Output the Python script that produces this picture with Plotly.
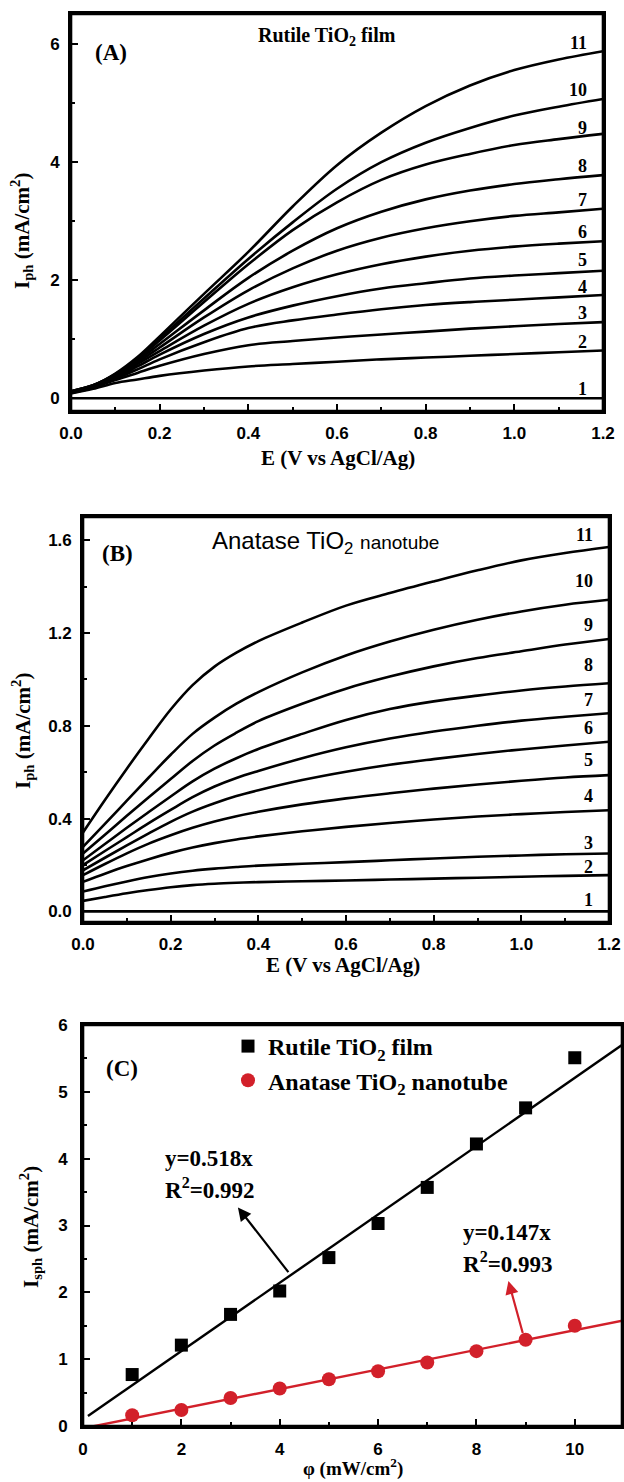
import plotly.graph_objects as go

W, H = 624, 1482

def PX(x):
    return x / W

def PY(y):
    return 1 - y / H

# ---------------- data ----------------
curve_ids = ["1", "2", "3", "4", "5", "6", "7", "8", "9", "10", "11"]

# Panel A: Rutile TiO2 film photocurrent (mA/cm2) vs E
E_A = [0.0, 0.05, 0.1, 0.15, 0.2, 0.3, 0.4, 0.5, 0.6, 0.7, 0.8, 0.9, 1.0, 1.1, 1.2]
rutile_1 = [0, 0, 0, 0, 0, 0, 0, 0, 0, 0, 0, 0, 0, 0, 0]
rutile_2 = [0.08, 0.16, 0.26, 0.32, 0.38, 0.47, 0.54, 0.58, 0.62, 0.66, 0.69, 0.72, 0.75, 0.78, 0.81]
rutile_3 = [0.09, 0.18, 0.31, 0.43, 0.55, 0.75, 0.90, 0.97, 1.03, 1.08, 1.13, 1.18, 1.22, 1.26, 1.29]
rutile_4 = [0.10, 0.19, 0.33, 0.49, 0.66, 0.95, 1.19, 1.32, 1.42, 1.51, 1.58, 1.63, 1.67, 1.71, 1.75]
rutile_5 = [0.10, 0.20, 0.35, 0.54, 0.74, 1.09, 1.37, 1.57, 1.73, 1.86, 1.95, 2.03, 2.08, 2.12, 2.16]
rutile_6 = [0.11, 0.21, 0.37, 0.58, 0.80, 1.23, 1.60, 1.88, 2.10, 2.27, 2.40, 2.50, 2.57, 2.62, 2.66]
rutile_7 = [0.11, 0.21, 0.38, 0.61, 0.86, 1.37, 1.83, 2.20, 2.50, 2.72, 2.88, 3.00, 3.09, 3.15, 3.21]
rutile_8 = [0.11, 0.21, 0.39, 0.64, 0.92, 1.49, 2.04, 2.50, 2.88, 3.16, 3.37, 3.52, 3.63, 3.71, 3.78]
rutile_9 = [0.12, 0.22, 0.40, 0.67, 0.98, 1.63, 2.27, 2.85, 3.32, 3.70, 3.96, 4.14, 4.29, 4.39, 4.48]
rutile_10 = [0.12, 0.22, 0.41, 0.68, 1.01, 1.69, 2.36, 2.98, 3.55, 4.00, 4.33, 4.58, 4.79, 4.94, 5.07]
rutile_11 = [0.12, 0.22, 0.42, 0.70, 1.05, 1.77, 2.48, 3.25, 3.95, 4.50, 4.95, 5.30, 5.56, 5.74, 5.88]

# Panel B: Anatase TiO2 nanotube photocurrent (mA/cm2) vs E
E_B = [0.0, 0.05, 0.1, 0.15, 0.2, 0.25, 0.3, 0.35, 0.4, 0.5, 0.6, 0.7, 0.8, 0.9, 1.0, 1.1, 1.2]
anatase_1 = [0] * 17
anatase_2 = [0.045, 0.062, 0.078, 0.092, 0.104, 0.113, 0.119, 0.123, 0.126, 0.130, 0.133, 0.137, 0.141, 0.145, 0.149, 0.153, 0.156]
anatase_3 = [0.085, 0.108, 0.129, 0.148, 0.163, 0.175, 0.184, 0.191, 0.197, 0.205, 0.212, 0.220, 0.228, 0.235, 0.241, 0.246, 0.249]
anatase_4 = [0.127, 0.162, 0.195, 0.225, 0.252, 0.275, 0.294, 0.310, 0.323, 0.345, 0.364, 0.381, 0.396, 0.409, 0.419, 0.428, 0.436]
anatase_5 = [0.156, 0.204, 0.250, 0.292, 0.328, 0.360, 0.387, 0.410, 0.429, 0.461, 0.487, 0.509, 0.529, 0.547, 0.563, 0.577, 0.587]
anatase_6 = [0.177, 0.231, 0.284, 0.336, 0.386, 0.430, 0.466, 0.497, 0.522, 0.566, 0.602, 0.632, 0.656, 0.678, 0.698, 0.715, 0.731]
anatase_7 = [0.199, 0.260, 0.320, 0.380, 0.437, 0.492, 0.538, 0.575, 0.605, 0.660, 0.707, 0.745, 0.775, 0.800, 0.822, 0.839, 0.854]
anatase_8 = [0.220, 0.290, 0.360, 0.428, 0.495, 0.560, 0.615, 0.660, 0.700, 0.765, 0.825, 0.872, 0.905, 0.930, 0.952, 0.969, 0.983]
anatase_9 = [0.249, 0.330, 0.412, 0.492, 0.570, 0.648, 0.715, 0.770, 0.820, 0.895, 0.960, 1.012, 1.056, 1.092, 1.121, 1.150, 1.174]
anatase_10 = [0.278, 0.377, 0.477, 0.577, 0.675, 0.765, 0.835, 0.895, 0.945, 1.030, 1.103, 1.163, 1.214, 1.257, 1.293, 1.322, 1.343]
anatase_11 = [0.340, 0.480, 0.615, 0.745, 0.870, 0.975, 1.055, 1.115, 1.165, 1.245, 1.318, 1.372, 1.422, 1.470, 1.513, 1.545, 1.571]

rutile_curves = [rutile_1, rutile_2, rutile_3, rutile_4, rutile_5, rutile_6,
                 rutile_7, rutile_8, rutile_9, rutile_10, rutile_11]
anatase_curves = [anatase_1, anatase_2, anatase_3, anatase_4, anatase_5, anatase_6,
                  anatase_7, anatase_8, anatase_9, anatase_10, anatase_11]

# Panel C: saturated photocurrent vs light intensity
phi = [1, 2, 3, 4, 5, 6, 7, 8, 9, 10]
rutile_sph = [0.77, 1.21, 1.67, 2.02, 2.52, 3.03, 3.57, 4.22, 4.76, 5.51]
anatase_sph = [0.16, 0.24, 0.42, 0.56, 0.70, 0.82, 0.95, 1.12, 1.29, 1.50]
fit_x = [0.1, 11.0]
rutile_fit = [0.15, 5.72]
anatase_fit = [-0.02, 1.58]

# label positions (curve numbers)
labelA_y = [0.15, 0.96, 1.45, 1.89, 2.34, 2.82, 3.36, 3.94, 4.58, 5.22, 6.02]
labelB_y = [0.048, 0.191, 0.295, 0.497, 0.652, 0.789, 0.911, 1.063, 1.235, 1.423, 1.624]

# ---------------- styling ----------------
SERIF = "Liberation Serif"
SANS = "Liberation Sans"
tickfont = dict(family=SANS, size=17, color="black", weight="bold")
RED = "#d2202a"
LINE = dict(color="black", width=2.6, shape="spline", smoothing=1.0)

fig = go.Figure()

for cid, ys in zip(curve_ids, rutile_curves):
    fig.add_trace(go.Scatter(x=E_A, y=ys, mode="lines", name=cid, line=LINE,
                             showlegend=False, xaxis="x", yaxis="y"))
for cid, ys in zip(curve_ids, anatase_curves):
    fig.add_trace(go.Scatter(x=E_B, y=ys, mode="lines", name=cid, line=LINE,
                             showlegend=False, xaxis="x2", yaxis="y2"))

fig.add_trace(go.Scatter(x=fit_x, y=rutile_fit, mode="lines", showlegend=False,
                         line=dict(color="black", width=2.4), xaxis="x3", yaxis="y3"))
fig.add_trace(go.Scatter(x=fit_x, y=anatase_fit, mode="lines", showlegend=False,
                         line=dict(color=RED, width=2.4), xaxis="x3", yaxis="y3"))
fig.add_trace(go.Scatter(x=phi, y=rutile_sph, mode="markers", name="Rutile TiO<sub>2</sub> film",
                         marker=dict(symbol="square", size=13, color="black"),
                         xaxis="x3", yaxis="y3", cliponaxis=False))
fig.add_trace(go.Scatter(x=phi, y=anatase_sph, mode="markers", name="Anatase TiO<sub>2</sub> nanotube",
                         marker=dict(symbol="circle", size=14, color=RED),
                         xaxis="x3", yaxis="y3", cliponaxis=False))


def axis(domain, rng, dtick, minor_dtick, anchor, standoff, fmt=None):
    d = dict(domain=domain, range=rng, anchor=anchor, showline=True, linecolor="black",
             linewidth=2.6, mirror=True, ticks="inside", ticklen=7, tickwidth=2.2,
             tickcolor="black", dtick=dtick, tick0=0, showgrid=False, zeroline=False,
             tickfont=tickfont, automargin=False, ticklabelstandoff=standoff,
             layer="above traces",
             minor=dict(ticks="inside", ticklen=4, tickwidth=2, tickcolor="black",
                        dtick=minor_dtick, tick0=0, showgrid=False))
    if fmt:
        d["tickformat"] = fmt
    return d


xa = axis([PX(71), PX(603)], [0, 1.2], 0.2, 0.1, "y", 5, ".1f")
ya = axis([PY(411), PY(14)], [-0.215, 6.51], 2, 1, "x", 5)
xb = axis([PX(83), PX(609)], [0, 1.2], 0.2, 0.1, "y2", 5, ".1f")
yb = axis([PY(922), PY(517)], [-0.046, 1.70], 0.4, 0.2, "x2", 5, ".1f")
xc = axis([PX(83), PX(622)], [0, 10.96], 2, 1, "y3", 6)
yc = axis([PY(1426), PY(1025)], [0, 6], 1, 0.5, "x3", 9)

# frames drawn as shapes around each plotting area
shapes = []
for xr, yr in [("x", "y"), ("x2", "y2"), ("x3", "y3")]:
    shapes.append(dict(type="rect", xref=xr + " domain", yref=yr + " domain",
                       x0=0, x1=1, y0=0, y1=1, layer="above",
                       line=dict(color="black", width=2.6), fillcolor="rgba(0,0,0,0)"))

annotations = []

def ann(text, x, y, size, family=SERIF, bold=True, xanchor="center", yanchor="middle",
        angle=0, color="black"):
    annotations.append(dict(text=text, x=x, y=y, xref="paper", yref="paper",
                            xanchor=xanchor, yanchor=yanchor, showarrow=False,
                            textangle=angle,
                            font=dict(family=family, size=size, color=color,
                                      weight="bold" if bold else "normal")))

# axis titles
ann("E (V vs AgCl/Ag)", PX(338), PY(458), 21)
ann("E (V vs AgCl/Ag)", PX(343), PY(965), 21)
ann("φ (mW/cm<sup>2</sup>)", PX(353), PY(1467), 19)
ann("I<sub>ph</sub> (mA/cm<sup>2</sup>)", PX(22), PY(231), 21, angle=-90)
ann("I<sub>ph</sub> (mA/cm<sup>2</sup>)", PX(22), PY(731), 21, angle=-90)
ann("I<sub>sph</sub> (mA/cm<sup>2</sup>)", PX(30), PY(1227), 21, angle=-90)

# panel labels
ann("(A)", PX(93), PY(52), 23, xanchor="left")
ann("(B)", PX(100), PY(553), 23, xanchor="left")
ann("(C)", PX(104), PY(1068), 23, xanchor="left")
ann("Rutile TiO<sub>2</sub> film", PX(327), PY(36), 20)
ann("Anatase TiO<sub>2</sub> <span style='font-size:19px'>nanotube</span>", PX(210), PY(542), 24,
    family=SANS, bold=False, xanchor="left")

# fit equations
ann("y=0.518x", PX(163), PY(1158), 23, xanchor="left")
ann("R<sup>2</sup>=0.992", PX(163), PY(1188), 23, xanchor="left")
ann("y=0.147x", PX(461), PY(1232), 23, xanchor="left")
ann("R<sup>2</sup>=0.993", PX(461), PY(1262), 23, xanchor="left")

# curve number labels
for cid, ly in zip(curve_ids, labelA_y):
    annotations.append(dict(text=cid, x=1.168, y=ly, xref="x", yref="y", xanchor="right",
                            yanchor="middle", showarrow=False,
                            font=dict(family=SERIF, size=18, color="black", weight="bold")))
for cid, ly in zip(curve_ids, labelB_y):
    annotations.append(dict(text=cid, x=1.167, y=ly, xref="x2", yref="y2", xanchor="right",
                            yanchor="middle", showarrow=False,
                            font=dict(family=SERIF, size=18, color="black", weight="bold")))

# arrows in panel C
annotations.append(dict(x=3.15, y=3.27, ax=4.2, ay=2.28, xref="x3", yref="y3",
                        axref="x3", ayref="y3", text="", showarrow=True, arrowhead=2,
                        arrowsize=1.2, arrowwidth=2.2, arrowcolor="black"))
annotations.append(dict(x=8.65, y=2.17, ax=8.95, ay=1.37, xref="x3", yref="y3",
                        axref="x3", ayref="y3", text="", showarrow=True, arrowhead=2,
                        arrowsize=1.2, arrowwidth=2.2, arrowcolor=RED))

fig.update_layout(
    width=W, height=H,
    margin=dict(l=0, r=0, t=0, b=0, autoexpand=False),
    paper_bgcolor="white", plot_bgcolor="white",
    xaxis=xa, yaxis=ya, xaxis2=xb, yaxis2=yb, xaxis3=xc, yaxis3=yc,
    annotations=annotations, shapes=shapes,
    showlegend=True,
    legend=dict(x=PX(228), y=PY(1024), xanchor="left", yanchor="top",
                bgcolor="rgba(0,0,0,0)", borderwidth=0,
                font=dict(family=SERIF, size=24, color="black", weight="bold"),
                tracegroupgap=0, itemwidth=30),
)

fig.write_html("out.html", config={"displayModeBar": False},
               post_script="document.body.style.margin='0';document.body.style.padding='0';")
